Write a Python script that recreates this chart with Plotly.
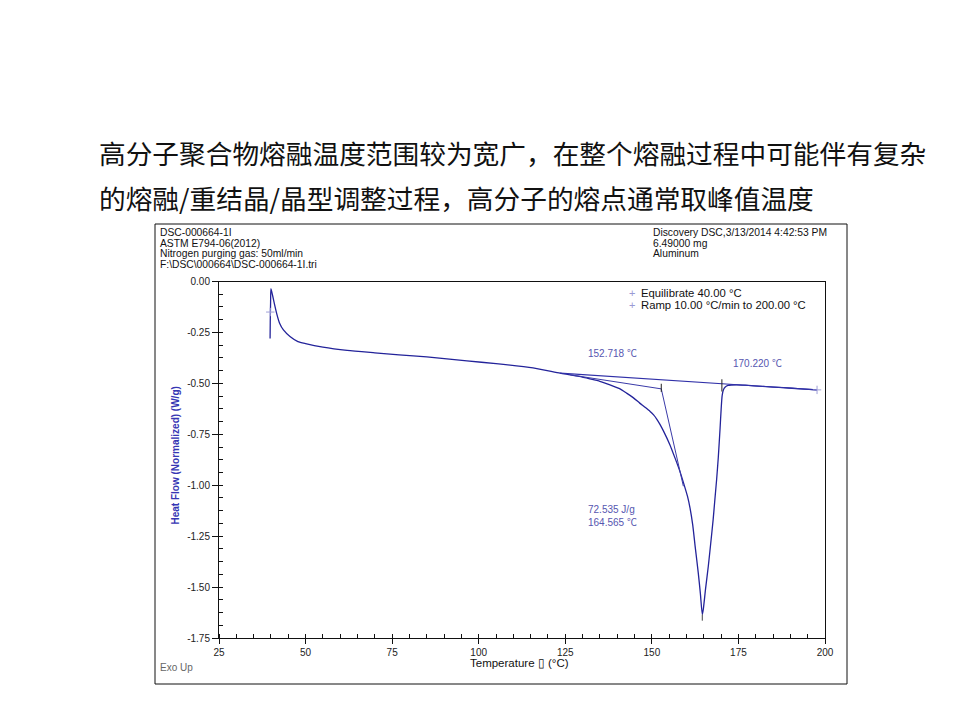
import plotly.graph_objects as go

# ---------------- data ----------------
temp = [39.75, 39.8, 39.9, 40.0, 40.5, 41.0, 41.7, 42.5, 43.6, 45.5, 47.8, 50.0, 55.0, 62.0,
        70.0, 77.0, 85.0, 96.6, 105.0, 115.7, 123.5, 126.4, 129.0, 132.1, 135.0, 137.9, 140.5,
        142.7, 144.6, 146.5, 148.0, 149.5, 150.5, 151.4, 152.3, 153.3, 155.2, 156.7, 158.1,
        159.6, 160.3, 161.0, 161.8, 162.5, 163.4, 164.0, 164.57, 164.85, 165.5, 166.3, 167.0,
        167.7, 168.2, 168.7, 169.2, 169.7, 170.0, 170.3, 170.7, 171.2, 172.0, 173.0, 174.5,
        177.0, 182.0, 188.0, 193.0, 197.7]
heat_flow = [-0.28, -0.20, -0.10, -0.035, -0.07, -0.11, -0.16, -0.205, -0.238, -0.27, -0.295,
             -0.305, -0.322, -0.338, -0.35, -0.36, -0.37, -0.39, -0.403, -0.424, -0.45, -0.458,
             -0.466, -0.478, -0.49, -0.507, -0.525, -0.548, -0.57, -0.597, -0.617, -0.638,
             -0.655, -0.675, -0.70, -0.732, -0.801, -0.867, -0.932, -1.014, -1.055, -1.11,
             -1.195, -1.30, -1.43, -1.53, -1.635, -1.61, -1.51, -1.398, -1.285, -1.169, -1.07,
             -0.973, -0.86, -0.72, -0.63, -0.56, -0.53, -0.518, -0.510, -0.508, -0.507, -0.509,
             -0.515, -0.521, -0.527, -0.532]

baseline_T = [123.5, 197.7]
baseline_V = [-0.45, -0.532]
onset_base_T = [126.4, 152.718]
onset_base_V = [-0.458, -0.527]
onset_tan_T = [152.718, 159.1]
onset_tan_V = [-0.527, -1.005]
onset_T = 152.718
endset_T = 170.220
peak_T = 164.565
peak_V = -1.635
enthalpy = 72.535
segment_T = [39.8, 197.7]
segment_V = [-0.15, -0.532]

x_ticks = [25, 50, 75, 100, 125, 150, 175, 200]
y_ticks = [0.0, -0.25, -0.5, -0.75, -1.0, -1.25, -1.5, -1.75]
y_ticktext = ["0.00", "-0.25", "-0.50", "-0.75", "-1.00", "-1.25", "-1.50", "-1.75"]

header_left = ["DSC-000664-1I", "ASTM E794-06(2012)", "Nitrogen purging gas: 50ml/min",
               "F:\\DSC\\000664\\DSC-000664-1I.tri"]
header_right = ["Discovery DSC,3/13/2014 4:42:53 PM", "6.49000 mg", "Aluminum"]
legend_items = ["Equilibrate 40.00 °C", "Ramp 10.00 °C/min to 200.00 °C"]
title_lines = ["高分子聚合物熔融温度范围较为宽广，在整个熔融过程中可能伴有复杂",
               "的熔融/重结晶/晶型调整过程，高分子的熔点通常取峰值温度"]

# page body has an 8px margin: figure sits at (8,8)
OFF = 8
W, H = 960 - OFF, 720 - OFF
def px(x):
    return (x - OFF) / W
def py(y):
    return 1 - (y - OFF) / H

CURVE = "#23239a"
LBL = "#5656b0"
FONT = "Arial, Liberation Sans, sans-serif"
CEL = "<span style='font-family:Noto Sans CJK SC'>℃</span>"

fig = go.Figure()
fig.add_trace(go.Scatter(x=temp, y=heat_flow, mode="lines",
                         line=dict(color=CURVE, width=1.3, shape="spline", smoothing=0.6),
                         hoverinfo="skip"))
fig.add_trace(go.Scatter(x=baseline_T, y=baseline_V, mode="lines",
                         line=dict(color="#3030a8", width=1.1), hoverinfo="skip"))
fig.add_trace(go.Scatter(x=onset_base_T, y=onset_base_V, mode="lines",
                         line=dict(color="#3a3aa8", width=1), hoverinfo="skip"))
fig.add_trace(go.Scatter(x=onset_tan_T, y=onset_tan_V, mode="lines",
                         line=dict(color="#3a3aa8", width=1), hoverinfo="skip"))
# marker ticks
fig.add_trace(go.Scatter(x=[onset_T, onset_T], y=[onset_base_V[1] + 0.025, onset_base_V[1] - 0.015],
                         mode="lines", line=dict(color="#222", width=1), hoverinfo="skip"))
fig.add_trace(go.Scatter(x=[endset_T, endset_T], y=[-0.48, -0.54],
                         mode="lines", line=dict(color="#222", width=1), hoverinfo="skip"))
fig.add_trace(go.Scatter(x=[peak_T, peak_T], y=[peak_V, peak_V - 0.03],
                         mode="lines", line=dict(color="#444", width=1), hoverinfo="skip"))
fig.add_trace(go.Scatter(x=segment_T, y=segment_V, mode="markers",
                         marker=dict(symbol="cross-thin", size=6, line=dict(color="#a0a0d8", width=1)),
                         hoverinfo="skip"))

ann = []
# title text
for i, t in enumerate(title_lines):
    ann.append(dict(x=px(97), y=py(152 + i * 45), xref="paper", yref="paper", text=t,
                    showarrow=False, xanchor="left", yanchor="middle",
                    font=dict(family="Noto Sans CJK SC", size=26.7, color="#111")))
for i, t in enumerate(header_left):
    ann.append(dict(x=px(158), y=py(232.5 + i * 10.7), xref="paper", yref="paper", text=t,
                    showarrow=False, xanchor="left", yanchor="middle",
                    font=dict(family=FONT, size=10.3, color="#111")))
for i, t in enumerate(header_right):
    ann.append(dict(x=px(651), y=py(232.5 + i * 10.7), xref="paper", yref="paper", text=t,
                    showarrow=False, xanchor="left", yanchor="middle",
                    font=dict(family=FONT, size=10.3, color="#111")))
for i, t in enumerate(legend_items):
    ann.append(dict(x=px(627), y=py(293 + i * 12), xref="paper", yref="paper", text="+",
                    showarrow=False, xanchor="left", yanchor="middle",
                    font=dict(family=FONT, size=11, color="#9a9ad4")))
    ann.append(dict(x=px(639), y=py(293 + i * 12), xref="paper", yref="paper", text=t,
                    showarrow=False, xanchor="left", yanchor="middle",
                    font=dict(family=FONT, size=11.3, color="#111")))
# analysis labels
ann.append(dict(x=138.5, y=-0.349, text=f"{onset_T:.3f} {CEL}", showarrow=False,
                font=dict(family=FONT, size=10, color=LBL)))
ann.append(dict(x=180.6, y=-0.40, text=f"{endset_T:.3f} {CEL}", showarrow=False,
                font=dict(family=FONT, size=10, color=LBL)))
ann.append(dict(x=130.9, y=-1.153, text=f"{enthalpy:.3f} J/g<br>{peak_T:.3f} {CEL}", showarrow=False,
                xanchor="left", align="left",
                font=dict(family=FONT, size=10, color=LBL)))
# axis titles
ann.append(dict(x=px(167), y=py(456), xref="paper", yref="paper",
                text="<b>Heat Flow (Normalized) (W/g)</b>", textangle=-90, showarrow=False,
                font=dict(family=FONT, size=10, color="#3636b4")))
ann.append(dict(x=px(519), y=py(671), xref="paper", yref="paper",
                text="Temperature \u25af (°C)", showarrow=False,
                font=dict(family=FONT, size=11.5, color="#111")))
ann.append(dict(x=px(158), y=py(667), xref="paper", yref="paper", text="Exo Up",
                showarrow=False, xanchor="left", yanchor="middle",
                font=dict(family=FONT, size=10, color="#666")))

shapes = [dict(type="rect", xref="paper", yref="paper", x0=px(155), x1=px(847),
               y0=py(224), y1=py(684), line=dict(color="#111", width=1))]

fig.update_layout(
    template="none",
    width=W, height=H, margin=dict(l=0, r=0, t=0, b=0, autoexpand=False),
    paper_bgcolor="white", plot_bgcolor="white", showlegend=False,
    annotations=ann, shapes=shapes,
    xaxis=dict(domain=[px(219), px(825)], range=[25, 200], tickmode="array", tickvals=x_ticks,
               automargin=False,
               ticks="outside", ticklen=5, tickcolor="#111", showline=True, linecolor="#111",
               linewidth=1, mirror=True, showgrid=False, zeroline=False,
               tickfont=dict(family=FONT, size=10, color="#222"),
               minor=dict(tick0=25, dtick=5, ticks="inside", ticklen=4, tickcolor="#111", showgrid=False)),
    yaxis=dict(domain=[py(638), py(281.5)], range=[-1.75, 0], tickmode="array", tickvals=y_ticks,
               automargin=False,
               ticktext=y_ticktext, ticks="outside", ticklen=6, tickcolor="#111", showline=True,
               linecolor="#111", linewidth=1, mirror=True, showgrid=False, zeroline=False,
               tickfont=dict(family=FONT, size=10, color="#222"),
               minor=dict(tick0=0, dtick=0.0625, ticks="inside", ticklen=4, tickcolor="#111", showgrid=False)),
)

fig.write_html("out.html")
